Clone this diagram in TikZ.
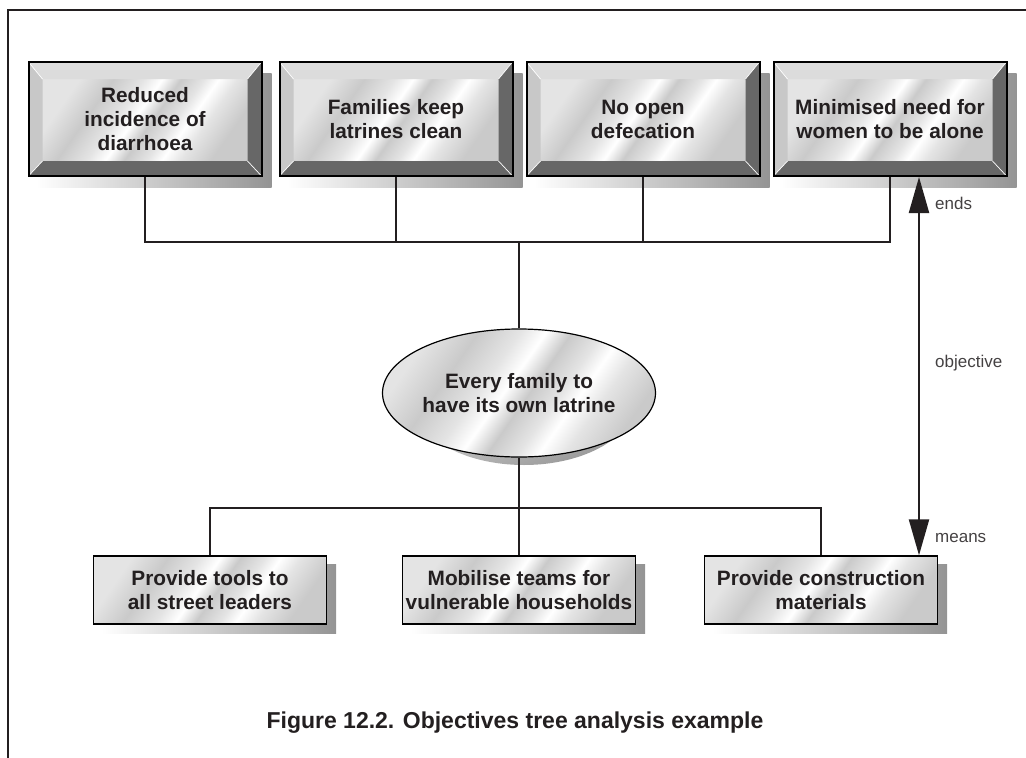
\documentclass[tikz,border=0pt]{standalone}
\usepackage{fontspec}
\setmainfont{Liberation Sans}
\usetikzlibrary{arrows.meta,calc,shapes.geometric,backgrounds}
\definecolor{mA}{HTML}{CACACA}
\definecolor{mB}{HTML}{E4E4E4}
\definecolor{ink}{HTML}{231F20}
\definecolor{bevT}{HTML}{DCDCDC}
\definecolor{bevL}{HTML}{C8C8C8}
\definecolor{bevD}{HTML}{676767}
\pgfdeclarehorizontalshading{metal}{100bp}{color(0bp)=(mB); color(25bp)=(mB); color(34bp)=(mA); color(42bp)=(mB); color(47bp)=(white); color(52bp)=(mA); color(58bp)=(mB); color(62bp)=(white); color(67bp)=(mB); color(75bp)=(mA); color(100bp)=(mA)}
\newcommand{\boxfont}{\bfseries\fontsize{20.8pt}{24pt}\selectfont}
\tikzset{
  metalface/.style={shade, shading=metal, shading angle=-35},
  topbox/.style={rectangle, minimum width=233pt, minimum height=114pt, inner sep=0pt,
    align=center, text=ink, font=\boxfont, draw=black, line width=2pt,
    path picture={
      \coordinate (pnw) at (path picture bounding box.north west);
      \coordinate (pne) at (path picture bounding box.north east);
      \coordinate (psw) at (path picture bounding box.south west);
      \coordinate (pse) at (path picture bounding box.south east);
      \coordinate (inw) at ($(pnw)+(14pt,-17pt)$);
      \coordinate (ine) at ($(pne)+(-14pt,-17pt)$);
      \coordinate (isw) at ($(psw)+(14pt,15pt)$);
      \coordinate (ise) at ($(pse)+(-14pt,15pt)$);
      \path[metalface] (inw) rectangle (ise);
      \fill[bevT] (pnw) -- (pne) -- (ine) -- (inw) -- cycle;
      \fill[bevL] (pnw) -- (inw) -- (isw) -- (psw) -- cycle;
      \fill[bevD] (pne) -- (pse) -- (ise) -- (ine) -- cycle;
      \fill[bevD] (psw) -- (pse) -- (ise) -- (isw) -- cycle;
      \draw[white, line width=0.7pt] (pnw) -- (inw) (pne) -- (ine) (psw) -- (isw) (pse) -- (ise);
    }},
  lowbox/.style={rectangle, minimum width=233pt, minimum height=68pt, inner sep=0pt,
    align=center, text=ink, font=\boxfont, draw=black, line width=1.3pt, metalface},
  goalnode/.style={ellipse, minimum width=222pt, minimum height=128pt, inner sep=0pt,
    align=center, text=ink, font=\boxfont, draw=black, line width=1.2pt, metalface},
  boxshadow/.style={left color=white, right color=black!42},
  conn/.style={draw=ink, line width=1.8pt},
  sidelabel/.style={anchor=west, inner sep=0pt, text=ink!85, font=\fontsize{17pt}{20pt}\selectfont},
  bothtri/.style={{Triangle[length=36pt,width=20pt]}-{Triangle[length=36pt,width=20pt]}, draw=ink, line width=2.2pt},
  frameline/.style={draw=ink, line width=1.3pt},
}
\begin{document}
\begin{tikzpicture}[x=1pt,y=-1pt]
\useasboundingbox (0,0) rectangle (1026,758);
\draw[frameline] (8,758) -- (8,10) -- (1026,10);

% ends
\node[topbox] (t1) at (145,119) {Reduced\\incidence of\\diarrhoea};
\node[topbox] (t2) at (396,119) {Families keep\\latrines clean};
\node[topbox] (t3) at (643,119) {No open\\defecation};
\node[topbox] (t4) at (890,119) {Minimised need for\\women to be alone};

% objective
\node[goalnode] (goal) at (519,393) {Every family to\\have its own latrine};

% means
\node[lowbox] (b1) at (210,590) {Provide tools to\\all street leaders};
\node[lowbox] (b2) at (519,590) {Mobilise teams for\\vulnerable households};
\node[lowbox] (b3) at (821,590) {Provide construction\\materials};

\begin{scope}[on background layer]
  \foreach \n in {t1,t2,t3,t4}{
    \shade[boxshadow] ($(\n.north west)+(9pt,-12pt)$) rectangle ($(\n.south east)+(9pt,-10pt)$);
  }
  \foreach \n in {b1,b2,b3}{
    \shade[boxshadow] ($(\n.north west)+(9pt,-9pt)$) rectangle ($(\n.south east)+(9pt,-9pt)$);
  }
  \shade[left color=white, right color=black!40, shading angle=20] ($(goal.center)+(5pt,-8pt)$) ellipse [x radius=111pt, y radius=64pt];
\end{scope}

% connectors
\coordinate (jt) at (518,242);
\coordinate (jb) at (519,508);
\draw[conn] (t1.south) -- (t1.south |- jt) -- (t4.south |- jt) -- (t4.south);
\draw[conn] (t2.south) -- (t2.south |- jt);
\draw[conn] (t3.south) -- (t3.south |- jt);
\draw[conn] (goal.north) -- (goal.north |- jt);
\draw[conn] (goal.south) -- (goal.south |- jb);
\draw[conn] (b1.north) -- (b1.north |- jb) -- (b3.north |- jb) -- (b3.north);
\draw[conn] (b2.north) -- (b2.north |- jb);

% ends-means arrow
\coordinate (ax) at (919,0);
\draw[bothtri] (t4.south -| ax) -- (b3.north -| ax);
\node[sidelabel] (lends) at (935,203) {ends};
\node[sidelabel] (lobj) at (935,363) {objective};
\node[sidelabel] (lmeans) at (935,538) {means};

% caption
\node[anchor=base, inner sep=0pt, text=ink, font=\bfseries\fontsize{23pt}{26pt}\selectfont] (cap) at (515,728) {Figure 12.2. Objectives tree analysis example};
\end{tikzpicture}
\end{document}
